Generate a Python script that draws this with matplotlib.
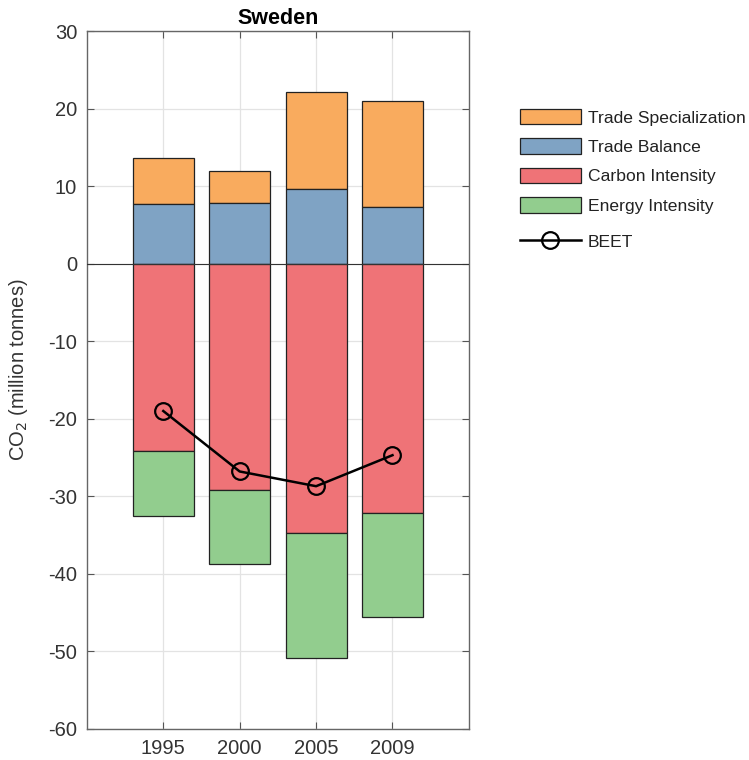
import matplotlib
matplotlib.use("Agg")
import matplotlib.pyplot as plt
import numpy as np

plt.rcParams['font.family'] = ['Liberation Sans', 'DejaVu Sans']
plt.rcParams['axes.unicode_minus'] = False

years = ["1995", "2000", "2005", "2009"]
trade_specialization = [5.9, 4.2, 12.6, 13.7]
trade_balance = [7.7, 7.8, 9.6, 7.3]
carbon_intensity = [-24.2, -29.2, -34.8, -32.2]
energy_intensity = [-8.4, -9.5, -16.1, -13.4]
beet = [-19.0, -26.8, -28.7, -24.7]

c_ts = "#F9AB5E"
c_tb = "#7FA3C4"
c_ci = "#EF7377"
c_ei = "#92CD8E"

fig = plt.figure(figsize=(7.49, 7.6), dpi=100)
ax = fig.add_axes([0.116, 0.041, 0.51, 0.918])

x = np.arange(1, len(years) + 1)
w = 0.8
ekw = dict(edgecolor="#222222", linewidth=0.9, zorder=2)
h_ts = ax.bar(x, trade_specialization, w, bottom=trade_balance, color=c_ts, label="Trade Specialization", **ekw)
h_tb = ax.bar(x, trade_balance, w, color=c_tb, label="Trade Balance", **ekw)
h_ci = ax.bar(x, carbon_intensity, w, color=c_ci, label="Carbon Intensity", **ekw)
h_ei = ax.bar(x, energy_intensity, w, bottom=carbon_intensity, color=c_ei, label="Energy Intensity", **ekw)
ax.axhline(0, color="#333333", linewidth=0.8, zorder=3)
h_b, = ax.plot(x, beet, color="black", linewidth=1.8, marker="o", markersize=12,
               markerfacecolor="none", markeredgecolor="black", markeredgewidth=1.6,
               label="BEET", zorder=4)

ax.set_xlim(0, 5)
ax.set_ylim(-60, 30)
ax.set_xticks(x)
ax.set_xticklabels(years)
ax.set_yticks(np.arange(-60, 31, 10))
ax.grid(True, color="#E3E3E3", linewidth=0.9, zorder=0)
ax.set_axisbelow(True)
ax.tick_params(direction="in", length=5, width=0.8, color="#555555",
               labelsize=14.5, labelcolor="#333333", top=True, right=True)
ax.tick_params(axis="x", pad=7)
ax.tick_params(axis="y", pad=7)
for s in ax.spines.values():
    s.set_color("#666666")
    s.set_linewidth(1.0)
ax.set_title("Sweden", fontsize=15.5, fontweight="bold", pad=5)
ax.set_ylabel("CO$_2$ (million tonnes)", fontsize=14.5, color="#333333")
ax.yaxis.set_label_coords(-0.149, 0.515)

lkw = dict(frameon=False, fontsize=12.6, handlelength=3.5, handleheight=1.0,
           labelspacing=0.72, handletextpad=0.4, borderpad=0, borderaxespad=0)
leg1 = fig.legend([h_ts, h_tb, h_ci, h_ei],
                  ["Trade Specialization", "Trade Balance", "Carbon Intensity", "Energy Intensity"],
                  loc="upper left", bbox_to_anchor=(0.694, 0.857), **lkw)
leg2 = fig.legend([h_b], ["BEET"], loc="upper left", bbox_to_anchor=(0.694, 0.693), **lkw)
for lg in (leg1, leg2):
    for t in lg.get_texts():
        t.set_color("#222222")

fig.savefig("out.png", dpi=100)
